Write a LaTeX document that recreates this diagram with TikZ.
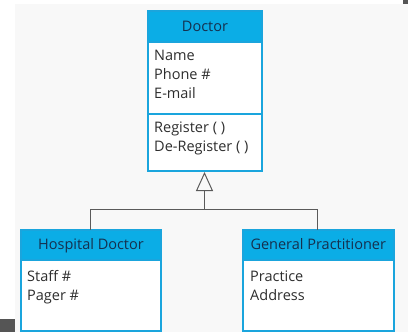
\documentclass[tikz,border=0pt]{standalone}
\usepackage{fontspec}
\setmainfont{Open Sans}
\usetikzlibrary{arrows.meta}
\definecolor{bgc}{HTML}{F8F8F8}
\definecolor{cy}{HTML}{0BADE6}
\definecolor{cyb}{HTML}{1AA5DD}
\definecolor{hdtxt}{HTML}{15304E}
\definecolor{bodytxt}{HTML}{2E2E2E}
\definecolor{conng}{HTML}{5A5A5A}
\definecolor{darkmark}{HTML}{555555}
\tikzset{
  hdr/.style={draw=cyb, fill=cy, line width=2pt, inner sep=0pt, outer sep=0pt, anchor=north west, text=hdtxt,
     text height=11.5pt, text depth=2pt, font=\fontsize{14.5pt}{19pt}\selectfont},
  cmp/.style={draw=cyb, fill=white, line width=2pt, inner sep=0pt, outer sep=0pt, anchor=north},
  txt/.style={anchor=base west, inner sep=0pt, text=bodytxt, font=\fontsize{14.5pt}{19pt}\selectfont},
  conn/.style={draw=conng, line width=1pt},
}
\begin{document}
\begin{tikzpicture}[x=1pt,y=-1pt]
\useasboundingbox (0,0) rectangle (408,332);
\fill[white] (0,0) rectangle (408,332);
\fill[bgc] (15,4) rectangle (408,332);
\fill[darkmark] (0,319) rectangle (15,332);
\fill[darkmark] (403,0) rectangle (408,4);
% Doctor
\node[hdr, minimum width=114pt, minimum height=31pt] (doc) at (148,11) {Doctor};
\node[cmp, minimum width=114pt, minimum height=72pt] (docA) at (doc.south) {};
\node[cmp, minimum width=114pt, minimum height=57pt] (docB) at (docA.south) {};
\node[txt] (t1) at (154,60) {Name};
\node[txt] (t2) at (154,79) {Phone \#};
\node[txt] (t3) at (154,98) {E-mail};
\node[txt] (t4) at (154,132.5) {Register ( )};
\node[txt] (t5) at (154,151.5) {De-Register ( )};
% Hospital Doctor
\node[hdr, minimum width=140pt, minimum height=30.5pt] (hd) at (21,229.5) {Hospital Doctor};
\node[cmp, minimum width=140pt, minimum height=70.5pt] (hdA) at (hd.south) {};
\node[txt] (t6) at (27,281) {Staff \#};
\node[txt] (t7) at (27,300) {Pager \#};
% General Practitioner
\node[hdr, minimum width=150.5pt, minimum height=30.5pt] (gp) at (243,229.5) {General Practitioner};
\node[cmp, minimum width=150.5pt, minimum height=70.5pt] (gpA) at (gp.south) {};
\node[txt] (t8) at (250,281) {Practice};
\node[txt] (t9) at (250,300) {Address};
% connectors
\coordinate (jn) at (204.5,209.5);
\draw[conn] ([xshift=-0.5pt]hd.north) |- (jn) -| ([xshift=-0.5pt]gp.north);
\draw[conn, -{Triangle[open, fill=bgc, length=19pt, width=17pt]}] (jn) -- ([yshift=-1pt]jn |- docB.south);
\end{tikzpicture}
\end{document}
